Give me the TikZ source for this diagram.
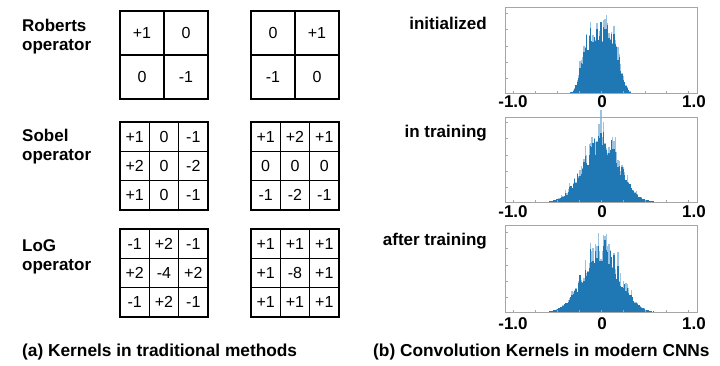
\documentclass[tikz,border=0pt]{standalone}
\usepackage{fontspec}
\setmainfont{Liberation Sans}
\definecolor{histdark}{HTML}{1F77B4}
\definecolor{histlight}{HTML}{9CC3E2}
\definecolor{framegray}{HTML}{A6A6A6}
\newcommand{\kerngrid}[5]{%
  \foreach \v [count=\k from 0] in {#5} {
    \pgfmathtruncatemacro\rr{int(\k/#3)}
    \pgfmathtruncatemacro\cc{mod(\k,#3)}
    \node[cellbox, minimum size=#4pt] (#1-\k) at ({#2+(\cc+0.5)*#4},{\gy+(\rr+0.5)*#4}) {\v};
  }
}
% #1 bottom y, #2 peak, #3 sigma, #4 exponent, #5 half range (bins of 0.015)
\newcommand{\histo}[5]{%
  \foreach \i in {-#5,...,#5} {
    \pgfmathsetmacro\xv{\i*0.015}
    \pgfmathsetmacro\g{#2*exp(-0.5*(abs(\xv)/#3)^#4)}
    \pgfmathsetmacro\hd{\g*(0.62+0.33*rnd)}
    \pgfmathsetmacro\hl{\hd+\g*0.3*rnd^2}
    \pgfmathsetmacro\xc{601+87.5*\xv}
    \ifdim\hl pt>0.8pt
      \fill[histlight] ({\xc-0.68},#1) rectangle ({\xc+0.68},{#1-\hl});
      \fill[histdark] ({\xc-0.68},#1) rectangle ({\xc+0.68},{#1-\hd});
    \fi
  }
}
\newcommand{\hframe}[2]{%
  \foreach \t in {-1,-0.75,...,1.01} {
    \draw[framegray, line width=0.5pt] ({601+87.5*\t},#2) -- ({601+87.5*\t},{#2-2});
  }
  \foreach \t in {15,31,47,64,80} {
    \draw[framegray, line width=0.5pt] (505,{#2-\t}) -- (507.5,{#2-\t});
  }
  \draw[framegray, line width=0.8pt] (505,#1) rectangle (697,#2);
}
\begin{document}
\begin{tikzpicture}[x=1pt,y=-1pt,
  oplabel/.style={anchor=west,align=left,font=\fontsize{17}{19}\selectfont\bfseries,inner sep=0pt},
  cellbox/.style={draw,line width=1.5pt,inner sep=0pt,font=\fontsize{16}{18}\selectfont},
  ticklabel/.style={font=\fontsize{17}{19}\selectfont\bfseries,inner sep=0pt},
  stagelabel/.style={anchor=east,font=\fontsize{17}{19}\selectfont\bfseries,inner sep=0pt},
  caption/.style={anchor=west,font=\fontsize{17.3}{19}\selectfont\bfseries,inner sep=0pt}]
\useasboundingbox (0,0) rectangle (720,366);
\pgfmathsetseed{11}

% left labels
\node[oplabel] (roberts) at (22,36.5) {Roberts\\operator};
\node[oplabel] (sobel) at (22,147) {Sobel\\operator};
\node[oplabel] (log) at (22,257) {LoG\\operator};

% kernels
\def\gy{11}
\kerngrid{ra}{120}{2}{44}{+1,0,0,-1}
\kerngrid{rb}{251}{2}{44}{0,+1,-1,0}
\def\gy{122}
\kerngrid{sa}{120}{3}{29.33}{+1,0,-1,+2,0,-2,+1,0,-1}
\kerngrid{sb}{251}{3}{29.33}{+1,+2,+1,0,0,0,-1,-2,-1}
\def\gy{229}
\kerngrid{la}{120}{3}{29.33}{-1,+2,-1,+2,-4,+2,-1,+2,-1}
\kerngrid{lb}{251}{3}{29.33}{+1,+1,+1,+1,-8,+1,+1,+1,+1}

\node[caption] (capa) at (22,352) {(a) Kernels in traditional methods};

% histograms
\histo{93}{78}{0.2}{4}{24}
\hframe{7}{93}
\histo{202}{78}{0.2}{2}{40}
\hframe{117}{202}
\histo{312}{80}{0.2}{2}{40}
\hframe{225}{312}

\node[stagelabel] (init) at (487,23) {initialized};
\node[stagelabel] (intr) at (487,133) {in training};
\node[stagelabel] (aftr) at (487,241) {after training};

\foreach \yy/\nm in {102/a,212/b,324/c} {
  \node[ticklabel] (tm\nm) at (513,\yy) {-1.0};
  \node[ticklabel] (tz\nm) at (602,\yy) {0};
  \node[ticklabel] (tp\nm) at (694,\yy) {1.0};
}

\node[caption] (capb) at (373,352) {(b) Convolution Kernels in modern CNNs};
\end{tikzpicture}
\end{document}
